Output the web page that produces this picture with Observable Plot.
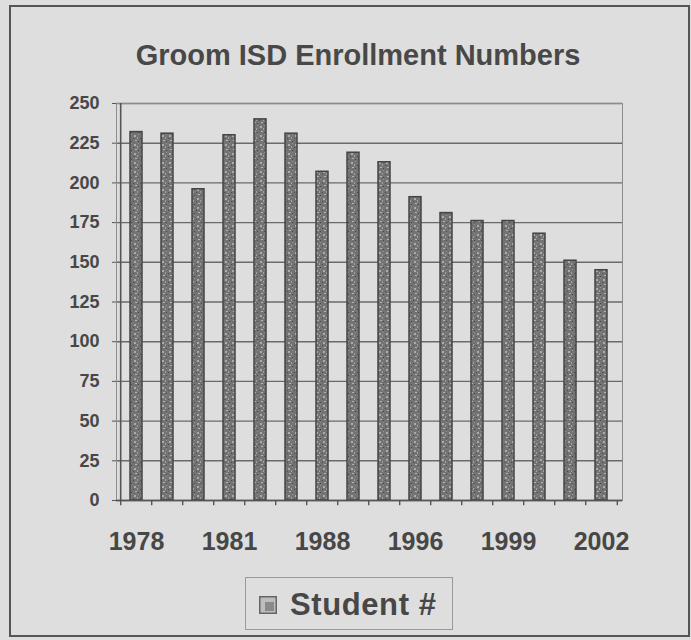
<!DOCTYPE html>
<html>
<head>
<meta charset="utf-8">
<script src="https://cdn.jsdelivr.net/npm/d3@7"></script>
<script src="https://cdn.jsdelivr.net/npm/@observablehq/plot@0.6"></script>
<style>
  html, body { margin: 0; padding: 0; background: #dedede; }
  #wrap { position: relative; width: 691px; height: 640px; background: #dedede; overflow: hidden;
          font-family: "Liberation Sans", Arial, sans-serif; color: #474747; }
  #border { position: absolute; left: 9px; top: 5px; width: 677px; height: 628px;
            border: 2.5px solid #555; }
  #title { position: absolute; left: 0; width: 716px; top: 41px; text-align: center;
           font-size: 29px; line-height: 29px; font-weight: bold; color: #484848; white-space: nowrap; }
  #chart { position: absolute; left: 0; top: 80px; }
  #legend { position: absolute; left: 245px; top: 577px; width: 206px; height: 51px;
            border: 1.5px solid #9a9a9a; }
  #legend svg { position: absolute; left: 13px; top: 18px; }
  #legend span { position: absolute; left: 44px; top: 11px; font-size: 31px; line-height: 31px;
                 font-weight: bold; color: #474747; letter-spacing: 0.6px; white-space: nowrap; }
</style>
</head>
<body>
<div id="wrap">
  <div id="border"></div>
  <div id="title">Groom ISD Enrollment Numbers</div>
  <div id="chart"></div>
  <div id="legend">
    <svg width="18" height="18"><rect x="0.75" y="0.75" width="16.5" height="16.5" fill="#bdbdbd" stroke="#666" stroke-width="1.5"/><rect x="6" y="6" width="9" height="9" fill="#8a8a8a"/></svg>
    <span>Student #</span>
  </div>
</div>
<script>
const years = ["1978","1979","1980","1981","1983","1985","1988","1990","1993","1996","1997","1998","1999","2000","2001","2002"];
const students = [232,231,196,230,240,231,207,219,213,191,181,176,176,168,151,145];
const labeledYears = ["1978","1981","1988","1996","1999","2002"];
const yTicks = [0,25,50,75,100,125,150,175,200,225,250];

const data = years.map((y, i) => ({year: y, students: students[i]}));

const W = 691, ML = 116, MR = 69;
const step = (W - ML - MR) / years.length;

const chart = Plot.plot({
  width: W,
  height: 480,
  marginLeft: ML,
  marginRight: MR,
  marginTop: 23,
  marginBottom: 60,
  style: {background: "transparent", color: "#474747", fontFamily: "Liberation Sans, Arial, sans-serif", overflow: "visible"},
  x: {domain: years, paddingInner: 0.6, paddingOuter: 0.3, axis: null, label: null},
  y: {domain: [0, 250], axis: null, label: null},
  marks: [
    Plot.gridY(yTicks, {stroke: "#6a6a6a", strokeOpacity: 1, strokeWidth: 1.4}),
    Plot.frame({stroke: "#8c8c8c", strokeWidth: 1}),
    Plot.ruleX([years[0]], {dx: -step / 2, y1: 0, y2: 250, stroke: "#555", strokeWidth: 1.6}),
    Plot.barY(data, {x: "year", y: "students", fill: "url(#speck)", stroke: "#454545", strokeWidth: 1.5}),
    Plot.ruleY([0], {stroke: "#555", strokeWidth: 1.6}),
    Plot.ruleX(years, {dx: -step / 2, y1: 0, y2: -3.3, stroke: "#555", strokeWidth: 1.4}),
    Plot.ruleX([years[years.length - 1]], {dx: step / 2, y1: 0, y2: -3.3, stroke: "#555", strokeWidth: 1.4}),
    Plot.axisY(yTicks, {tickSize: 4, tickPadding: 13, fontSize: 18, fontWeight: "bold", stroke: "#555", label: null}),
    Plot.axisX(labeledYears, {tickSize: 0, tickPadding: 32, fontSize: 25, fontWeight: "bold", label: null})
  ]
});

const ns = "http://www.w3.org/2000/svg";
const defs = document.createElementNS(ns, "defs");
defs.innerHTML = `
<pattern id="speck" width="7" height="9" patternUnits="userSpaceOnUse">
  <rect width="7" height="9" fill="#737373"/>
  <rect x="1" y="1" width="2" height="2" fill="#ababab"/>
  <rect x="4" y="3" width="1" height="2" fill="#a0a0a0"/>
  <rect x="2" y="6" width="2" height="1" fill="#b4b4b4"/>
  <rect x="5" y="7" width="1" height="1" fill="#474747"/>
  <rect x="0" y="4" width="1" height="1" fill="#4c4c4c"/>
  <rect x="5" y="0" width="1" height="1" fill="#929292"/>
</pattern>`;
chart.insertBefore(defs, chart.firstChild);
document.getElementById("chart").appendChild(chart);
</script>
</body>
</html>
